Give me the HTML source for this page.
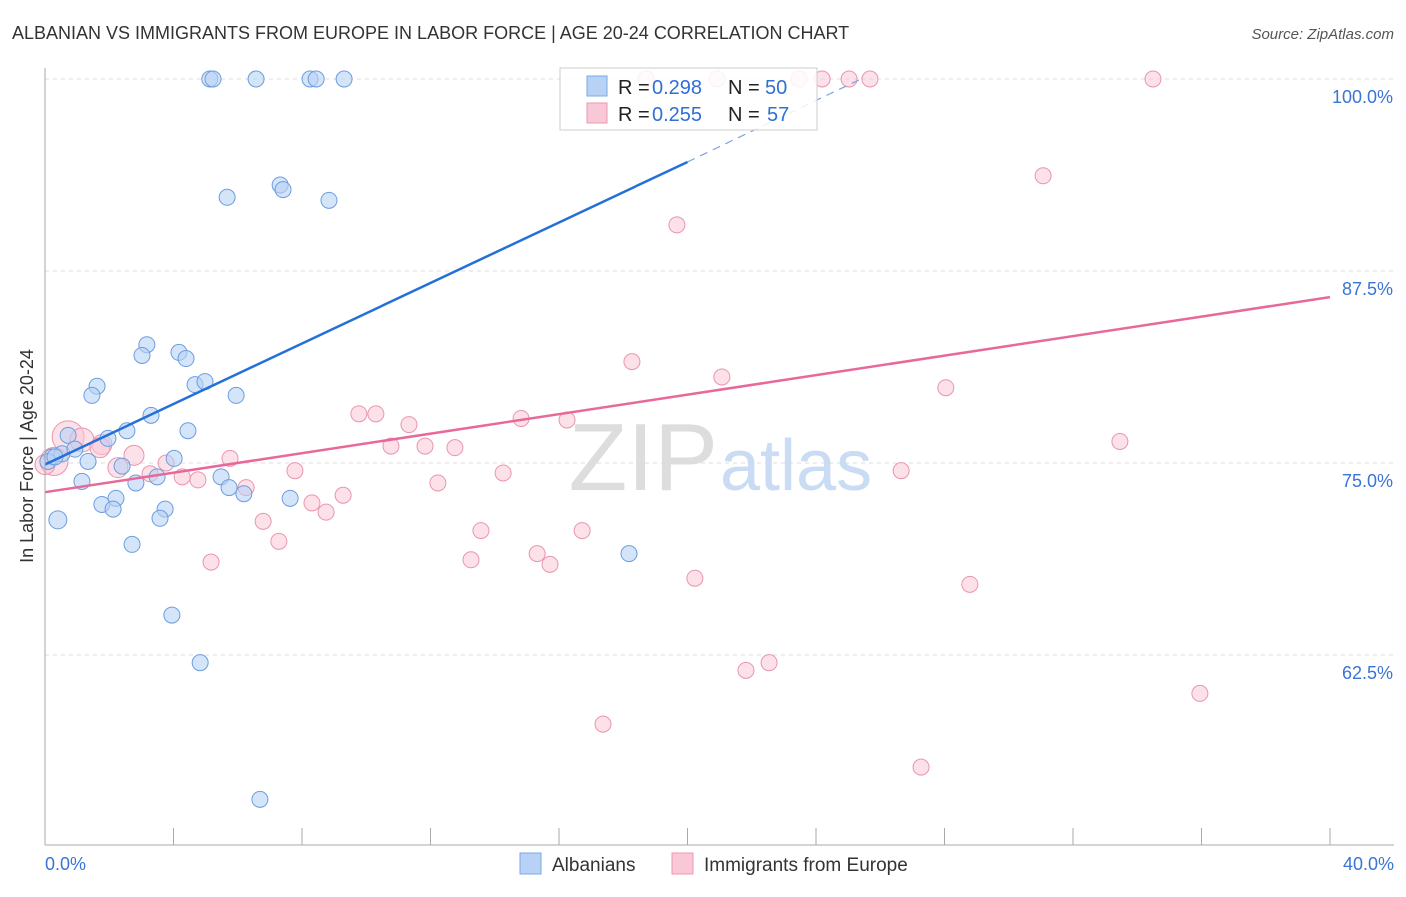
<!DOCTYPE html>
<html><head><meta charset="utf-8"><style>
body{margin:0;background:#fff;font-family:"Liberation Sans",sans-serif;}
svg text{font-family:"Liberation Sans",sans-serif;}
</style></head><body>
<svg id="chart" width="1406" height="892">
<text x="12" y="39" font-size="18" fill="#333">ALBANIAN VS IMMIGRANTS FROM EUROPE IN LABOR FORCE | AGE 20-24 CORRELATION CHART</text>
<text x="1394" y="39" font-size="15" fill="#555" font-style="italic" text-anchor="end">Source: ZipAtlas.com</text>
<g id="grid"></g>
<text x="718" y="490" font-size="96" fill="#ddd" font-family="Liberation Serif" text-anchor="end">ZIP</text>
<text x="720" y="490" font-size="72" fill="#c9dcf3">atlas</text>
<g id="pts"></g>
<g id="axes"></g>
<text x="33" y="456" font-size="18" fill="#333" text-anchor="middle" transform="rotate(-90 33 456)">In Labor Force | Age 20-24</text>
<g>
<rect x="560" y="68" width="257" height="62" fill="#fff" fill-opacity="0.85" stroke="#ccc"/>
<rect x="587" y="76" width="20" height="20" fill="#b8d2f5" stroke="#7aa8e6"/>
<rect x="587" y="103" width="20" height="20" fill="#f9c8d6" stroke="#eb98b2"/>
<text x="618" y="94" font-size="20" fill="#222">R =</text>
<text x="652" y="94" font-size="20" fill="#2f6fd6">0.298</text>
<text x="728" y="94" font-size="20" fill="#222">N =</text>
<text x="765" y="94" font-size="20" fill="#2f6fd6">50</text>
<text x="618" y="121" font-size="20" fill="#222">R =</text>
<text x="652" y="121" font-size="20" fill="#2f6fd6">0.255</text>
<text x="728" y="121" font-size="20" fill="#222">N =</text>
<text x="767" y="121" font-size="20" fill="#2f6fd6">57</text>
</g>
<g>
<rect x="520" y="853" width="21" height="21" fill="#b8d2f5" stroke="#7aa8e6"/>
<text x="552" y="871" font-size="19" fill="#333">Albanians</text>
<rect x="672" y="853" width="21" height="21" fill="#f9c8d6" stroke="#eb98b2"/>
<text x="704" y="871" font-size="19" fill="#333">Immigrants from Europe</text>
</g>
</svg>
<script>
const yTicks=[100,87.5,75,62.5];
const yTickLabels=["100.0%","87.5%","75.0%","62.5%"];
const xTicks=[0,4,8,12,16,20,24,28,32,36,40];
const blueX=[5.13,5.23,6.57,8.25,8.44,9.31,5.67,7.32,7.41,8.84,3.17,3.02,4.17,4.39,1.62,1.46,4.67,4.98,5.95,3.3,2.55,4.45,0.72,1.96,0.22,0.53,0.93,1.34,2.4,4.02,3.49,1.15,2.83,5.48,5.73,6.19,7.63,2.21,1.77,2.12,3.74,3.58,0.4,2.71,18.18,3.95,4.83,6.69,0.09,0.31];
const blueY=[100,100,100,100,100,100,92.3,93.1,92.8,92.1,82.7,82.0,82.2,81.8,80.0,79.4,80.1,80.3,79.4,78.1,77.1,77.1,76.8,76.6,75.4,75.6,75.9,75.1,74.8,75.3,74.1,73.8,73.7,74.1,73.4,73.0,72.7,72.7,72.3,72.0,72.0,71.4,71.3,69.7,69.1,65.1,62.0,53.1,75.1,75.4];
const blueR=[8,8,8,8,8,8,8,8,8,8,8,8,8,8,8,8,8,8,8,8,8,8,8,8,8,8,8,8,8,8,8,8,8,8,8,8,8,8,8,8,8,8,9,8,8,8,8,8,8,8];
const pinkX=[18.71,20.92,23.47,24.19,25.03,25.68,34.49,31.07,19.67,18.27,21.07,28.04,9.77,10.3,11.33,14.82,16.25,10.77,11.83,12.76,33.46,0.72,1.15,1.77,2.77,2.27,3.77,3.27,4.27,4.76,5.76,6.26,7.78,9.28,8.31,8.75,12.23,14.26,26.65,6.79,7.28,5.17,13.57,16.72,13.26,15.32,15.72,20.23,28.79,22.54,21.82,35.95,17.37,27.27,0.28,0.0,1.71];
const pinkY=[100,100,100,100,100,100,100,93.7,90.5,81.6,80.6,79.9,78.2,78.2,77.5,77.9,77.8,76.1,76.1,76.0,76.4,76.7,76.5,76.2,75.5,74.7,75.0,74.3,74.1,73.9,75.3,73.4,74.5,72.9,72.4,71.8,73.7,74.35,74.5,71.2,69.9,68.55,70.6,70.6,68.7,69.1,68.4,67.5,67.1,62.0,61.5,60.0,58.0,55.2,75.1,74.9,76.0];
const pinkR=[8,8,8,8,8,8,8,8,8,8,8,8,8,8,8,8,8,8,8,8,8,16,12,10,10,10,8,8,8,8,8,8,8,8,8,8,8,8,8,8,8,8,8,8,8,8,8,8,8,8,8,8,8,8,14,10,10];
const blueLine=[0,74.9,20,94.6,25.4,100];
const pinkLine=[0,73.1,40,85.8];
const X=v=>45+v*32.125, Y=v=>79+(100-v)*15.36;
const NS="http://www.w3.org/2000/svg";
function mk(tag,attrs,parent){const e=document.createElementNS(NS,tag);for(const k in attrs)e.setAttribute(k,attrs[k]);parent.appendChild(e);return e;}
const grid=document.getElementById('grid'),axes=document.getElementById('axes'),pts=document.getElementById('pts');
yTicks.forEach((t,i)=>{
 const l=mk('line',{x1:45,x2:1394,y1:Y(t),y2:Y(t),stroke:'#ddd','stroke-dasharray':'4 4'},grid);
 
 
 const tx=mk('text',{x:1393,y:Y(t)+24,'font-size':18,fill:'#3a74d8','text-anchor':'end'},axes);
 tx.textContent=yTickLabels[i];
 
 
});
const ax=mk('line',{x1:45,x2:1394,y1:845,y2:845,stroke:'#aaa'},axes);


const ay=mk('line',{x1:45,x2:45,y1:68,y2:845,stroke:'#aaa'},axes);


xTicks.forEach(t=>{const l=mk('line',{x1:X(t),x2:X(t),y1:828,y2:845,stroke:'#aaa'},axes);
 
 });
[[0,'0.0%','start',45],[40,'40.0%','end',1394]].forEach(d=>{const t=mk('text',{x:d[3],y:870,'font-size':18,fill:'#3a74d8','text-anchor':d[2]},axes);t.textContent=d[1];
 
 });
pinkX.forEach((v,i)=>{const c=mk('circle',{cx:X(v),cy:Y(pinkY[i]),r:pinkR[i],fill:'#f9c8d6','fill-opacity':0.55,stroke:'#e995b0','stroke-width':1},pts);
 
 });
blueX.forEach((v,i)=>{const c=mk('circle',{cx:X(v),cy:Y(blueY[i]),r:blueR[i],fill:'#b8d2f5','fill-opacity':0.6,stroke:'#6c9de0','stroke-width':1},pts);
 
 });
const bl=mk('line',{x1:X(blueLine[0]),y1:Y(blueLine[1]),x2:X(blueLine[2]),y2:Y(blueLine[3]),stroke:'#2470d8','stroke-width':2.5},pts);


const bd=mk('line',{x1:X(blueLine[2]),y1:Y(blueLine[3]),x2:X(blueLine[4]),y2:Y(blueLine[5]),stroke:'#7aa3e0','stroke-width':1.2,'stroke-dasharray':'8 6'},pts);


const pl=mk('line',{x1:X(pinkLine[0]),y1:Y(pinkLine[1]),x2:X(pinkLine[2]),y2:Y(pinkLine[3]),stroke:'#e8689a','stroke-width':2.5},pts);


</script>
</body></html>
